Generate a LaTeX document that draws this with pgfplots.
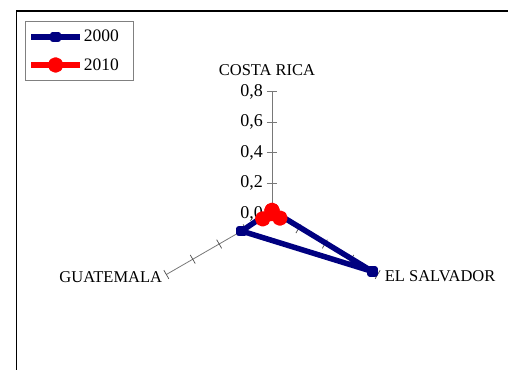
\documentclass[border=0pt]{standalone}
\usepackage{fontspec}
\setmainfont{Liberation Serif}
\usepackage{pgfplots}
\pgfplotsset{compat=1.18}
\usepgfplotslibrary{polar}
\definecolor{navyline}{RGB}{0,0,128}
\definecolor{axisgray}{RGB}{120,120,120}

\begin{document}
\begin{tikzpicture}
\useasboundingbox (-272bp,-156.5bp) rectangle (236bp,213.5bp);
% outer chart frame (runs off the right and bottom edge)
\draw[black, line width=1.5bp] (-255.5bp,-170bp) -- (-255.5bp,202.5bp) -- (250bp,202.5bp);
\begin{polaraxis}[
  at={(0,0)}, anchor=origin,
  scale only axis, width=244bp, height=244bp,
  xmin=0, xmax=360, ymin=0, ymax=0.8,
  hide axis, clip=false,
  legend style={at={(-0.512,1.289)}, anchor=north west,
    draw=gray, line width=0.6bp, fill=white,
    font=\fontsize{17.5bp}{20bp}\selectfont,
    inner xsep=3bp, inner ysep=8bp, row sep=13bp,
    nodes={inner sep=1bp}},
  legend cell align=left,
  legend image code/.code={\draw[mark repeat=2,mark phase=2,#1]
    plot coordinates {(0bp,0bp) (24.5bp,0bp) (49bp,0bp)};},
]
% radial axes
\draw[axisgray, line width=0.8bp] (axis cs:0,0) -- (axis cs:90,0.8);
\draw[axisgray, line width=0.8bp] (axis cs:0,0) -- (axis cs:330,0.8);
\draw[axisgray, line width=0.8bp] (axis cs:0,0) -- (axis cs:210,0.8);
\pgfplotsinvokeforeach{0,0.2,0.4,0.6,0.8}{
  \draw[axisgray, line width=0.8bp] ([xshift=-5bp]axis cs:90,#1) -- ++(10bp,0);
}
\pgfplotsinvokeforeach{0.2,0.4,0.6,0.8}{
  \draw[black!70, line width=0.7bp] ([shift={(60:5bp)}]axis cs:330,#1) -- ++(240:10bp);
  \draw[black!70, line width=0.7bp] ([shift={(120:5bp)}]axis cs:210,#1) -- ++(300:10bp);
}
% radial tick labels
\node[anchor=east, font=\fontsize{18bp}{20bp}\selectfont, inner sep=0pt] at ([xshift=-9bp]axis cs:90,0) {0,0};
\node[anchor=east, font=\fontsize{18bp}{20bp}\selectfont, inner sep=0pt] at ([xshift=-9bp]axis cs:90,0.2) {0,2};
\node[anchor=east, font=\fontsize{18bp}{20bp}\selectfont, inner sep=0pt] at ([xshift=-9bp]axis cs:90,0.4) {0,4};
\node[anchor=east, font=\fontsize{18bp}{20bp}\selectfont, inner sep=0pt] at ([xshift=-9bp]axis cs:90,0.6) {0,6};
\node[anchor=east, font=\fontsize{18bp}{20bp}\selectfont, inner sep=0pt] at ([xshift=-9bp]axis cs:90,0.8) {0,8};
% category labels
\node[anchor=base, font=\fontsize{16.5bp}{18bp}\selectfont, inner sep=0pt]
  at ([shift={(-5bp,15.7bp)}]axis cs:90,0.8) {COSTA RICA};
\node[anchor=base west, font=\fontsize{16.5bp}{18bp}\selectfont, inner sep=0pt]
  at ([shift={(7bp,-7.2bp)}]axis cs:330,0.8) {EL SALVADOR};
\node[anchor=base east, font=\fontsize{16.5bp}{18bp}\selectfont, inner sep=0pt]
  at ([shift={(-4bp,-7.8bp)}]axis cs:210,0.8) {GUATEMALA};

\addplot[navyline, line width=5.5bp, line join=round,
  mark=square*, mark size=2.5bp, mark options={solid}]
  coordinates {(90,0.02) (330,0.76) (210,0.23) (90,0.02)};
\addlegendentry{2000\hspace*{10bp}}
\addplot[red, line width=5.5bp, line join=round,
  mark=*, mark size=5bp, mark options={solid}]
  coordinates {(90,0.02) (330,0.06) (210,0.07) (90,0.02)};
\addlegendentry{2010\hspace*{10bp}}
\end{polaraxis}
\end{tikzpicture}
\end{document}
